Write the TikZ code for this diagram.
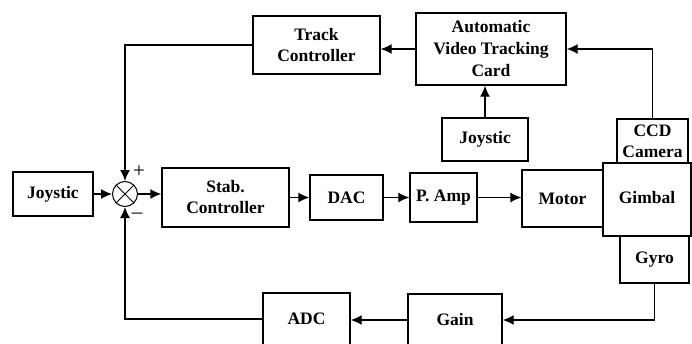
\documentclass[tikz,border=0pt]{standalone}
\usepackage{fontspec}
\setmainfont{Liberation Serif}
\usetikzlibrary{arrows.meta}
\begin{document}
\begin{tikzpicture}[x=1pt,y=-1pt,
  blk/.style={draw, line width=1.4pt, inner sep=0pt, align=center,
    font=\fontsize{17.5}{21}\selectfont\bfseries},
  sign/.style={inner sep=0pt, font=\fontsize{21}{22}\selectfont},
  arr/.style={line width=1.4pt, -{Latex[length=11pt,width=10pt]}},
  ln/.style={line width=1.4pt}]
\useasboundingbox (0,0) rectangle (692,343);
\clip (0,0) rectangle (692,343);

% forward path
\node[blk, minimum width=80pt, minimum height=44pt] (joyL) at (53,194) {Joystic};
\node[draw, circle, line width=1pt, minimum size=25pt, inner sep=0pt] (sum) at (125,194) {};
\draw[line width=0.9pt] (sum.north west) -- (sum.south east)
                        (sum.north east) -- (sum.south west);
\node[sign] (plus) at (139,172) {+};
\node[sign] (minus) at (137,216) {\textendash};
\node[blk, minimum width=127pt, minimum height=59pt] (stab) at (225.5,197.5) {Stab.\\Controller};
\node[blk, minimum width=73pt, minimum height=45pt] (dac) at (346.5,197.5) {DAC};
\node[blk, minimum width=67pt, minimum height=49pt] (pamp) at (443.5,197.5) {P. Amp};
\node[blk, minimum width=81pt, minimum height=57pt] (motor) at (562.5,198.5) {Motor};
\node[blk, minimum width=88pt, minimum height=73pt] (gimbal) at (647,199.5) {\raisebox{4pt}{Gimbal}};
\node[blk, minimum width=69pt, minimum height=47pt] (gyro) at (654.5,259.5) {Gyro};
\node[blk, minimum width=71pt, minimum height=44pt] (ccd) at (652.5,141) {CCD\\Camera};

% tracking loop
\node[blk, minimum width=127pt, minimum height=58pt] (track) at (316.5,45) {Track\\Controller};
\node[blk, minimum width=150pt, minimum height=72pt, font=\fontsize{17.5}{22}\selectfont\bfseries]
  (avtc) at (491,49) {Automatic\\Video Tracking\\Card};
\node[blk, minimum width=86pt, minimum height=43pt] (joyT) at (485,139.5) {Joystic};

% feedback path
\node[blk, minimum width=94pt, minimum height=52pt] (gain) at (455,320) {Gain};
\node[blk, minimum width=87pt, minimum height=52pt] (adc) at (306.5,319) {ADC};

% connectors
\draw[arr] (joyL.east) -- (sum.west);
\draw[arr] (sum.east) -- (sum.east -| stab.west);
\draw[arr] (stab.east |- dac.west) -- (dac.west);
\draw[arr] (dac.east) -- (dac.east -| pamp.west);
\draw[arr] (pamp.east) -- (pamp.east -| motor.west);

\draw[arr] (avtc.west) -- (avtc.west -| track.east);
\draw[arr] (joyT.north) -- (joyT.north |- avtc.south);
\draw[arr] (ccd.north) |- (avtc.east);
\draw[arr] (track.west) -| (sum.north);

\draw[arr] (gyro.south) |- (gain.east);
\draw[arr] (gain.west) -- (gain.west -| adc.east);
\draw[arr] (adc.west) -| (sum.south);
\end{tikzpicture}
\end{document}
